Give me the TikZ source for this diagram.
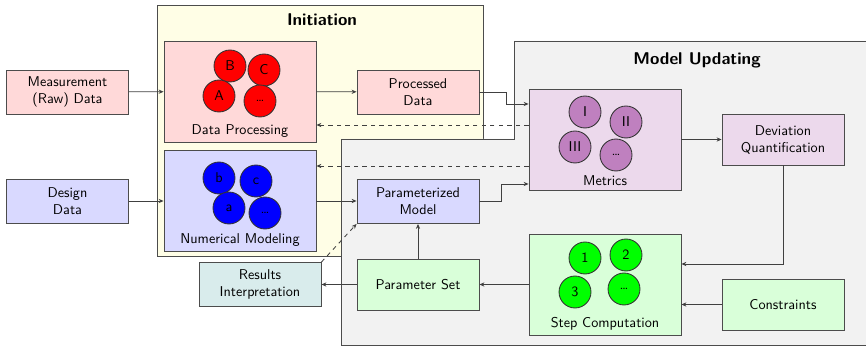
\documentclass[tikz,border=0pt]{standalone}
\usepackage{tikz}
\usetikzlibrary{arrows.meta}
\renewcommand{\familydefault}{\sfdefault}

\begin{document}
\begin{tikzpicture}[x=.704pt, y=-.704pt, line width=.6pt,
    box/.style={draw=black!70, align=center, minimum width=85.9pt, minimum height=31pt, inner sep=2pt},
    tallbox/.style={box, minimum height=35.9pt},
    bigbox/.style={draw=black!70, minimum width=107pt, minimum height=71.1pt},
    dot/.style={circle, draw=black!80, minimum size=22.5pt, inner sep=0pt},
    arr/.style={-{Stealth[length=3.5pt,width=3pt]}, draw=black!75},
    dasharr/.style={arr, dashed},
  ]
    \useasboundingbox (0,0) rectangle (866,347);

    % Rahmen.
    \draw[black!70, fill=yellow!10] (157,5) rectangle (483,256);
    \draw[black!70, fill=gray!10] (341,139) -- (514,139) -- (514,41) -- (870,41) -- (870,345) -- (341,345) -- cycle;
    \node[font=\large\bfseries] (tinit) at (322,20) {Initiation};
    \node[font=\large\bfseries] (tupd) at (697,60) {Model Updating};

    % Kaesten.
    \node[box, fill=red!15]    (meas)   at (67.5,92)  {Measurement\\(Raw) Data};
    \node[box, fill=blue!15]   (design) at (67.5,201) {Design\\Data};
    \node[box, fill=red!15]    (pd)     at (418,92)   {Processed\\Data};
    \node[box, fill=blue!15]   (pm)     at (418,201.5) {Parameterized\\Model};
    \node[box, fill=teal!15]   (ri)     at (260,284.5) {Results\\Interpretation};
    \node[tallbox, fill=violet!15] (dev) at (783,139.5) {Deviation\\Quantification};
    \node[tallbox, fill=green!15]  (ps)  at (418,284.5) {Parameter Set};
    \node[tallbox, fill=green!15]  (con) at (783,304.5) {Constraints};

    \node[bigbox, fill=red!15]    (dp)  at (240,91.5)  {};
    \node[bigbox, fill=blue!15]   (nm)  at (240,201)   {};
    \node[bigbox, fill=violet!15] (met) at (605,139.5) {};
    \node[bigbox, fill=green!15]  (sc)  at (605,284.5) {};

    \node[above] (dplab)  at (dp.south)  {Data Processing};
    \node[above] (nmlab)  at (nm.south)  {Numerical Modeling};
    \node[above] (metlab) at (met.south) {Metrics};
    \node[above] (sclab)  at (sc.south)  {Step Computation};

    % Kreise.
    \foreach \dx/\dy/\t [count=\k] in {-10/-25.5/B, 24/-21.5/C, -21/4.5/A, 20/9.5/\dots}
        \node[dot, fill=red] (dp\k) at ([shift={(\dx,\dy)}]dp.center) {\t};
    \foreach \dx/\dy/\t [count=\k] in {-21/-23/b, 16/-20/c, -11/7/a, 25/12/\dots}
        \node[dot, fill=blue] (nm\k) at ([shift={(\dx,\dy)}]nm.center) {\t};
    \foreach \dx/\dy/\t [count=\k] in {-20/-27.5/I, 21/-17.5/II, -30/7.5/III, 11/15.5/\dots}
        \node[dot, fill=violet!50] (met\k) at ([shift={(\dx,\dy)}]met.center) {\t};
    \foreach \dx/\dy/\t [count=\k] in {-20/-26.5/1, 21/-29.5/2, -30/7.5/3, 19/4.5/\dots}
        \node[dot, fill=green] (sc\k) at ([shift={(\dx,\dy)}]sc.center) {\t};

    % Pfeile.
    \draw[arr] (meas) -- (dp);
    \draw[arr] (design) -- (nm);
    \draw[arr] (dp) -- (pd);
    \draw[arr] (nm.east) -- (nm.east -| pm.west);
    \draw[arr] (pd.east) -- ++(27,0) |- ([shift={(0,-35.5)}]met.west);
    \draw[arr] (pm.east) -- ++(22,0) |- ([shift={(0,44.5)}]met.west);
    \draw[arr] (met) -- (dev);
    \draw[arr] (dev.south) |- ([shift={(0,-20.5)}]sc.east);
    \draw[arr] (con.west) -- (con.west -| sc.east);
    \draw[arr] (sc) -- (ps);
    \draw[arr] (ps) -- (pm);
    \draw[arr] (ps) -- (ri);

    % Rueckfuehrung.
    \coordinate (fb1) at ([shift={(0,-14.5)}]met.west);
    \coordinate (fb2) at ([shift={(0,26.5)}]met.west);
    \draw[dasharr] (fb1) -- (fb1 -| dp.east);
    \draw[dasharr] (fb2) -- (fb2 -| nm.east);
    \draw[dasharr] (ri.north east) -- (pm.south west);
\end{tikzpicture}
\end{document}
